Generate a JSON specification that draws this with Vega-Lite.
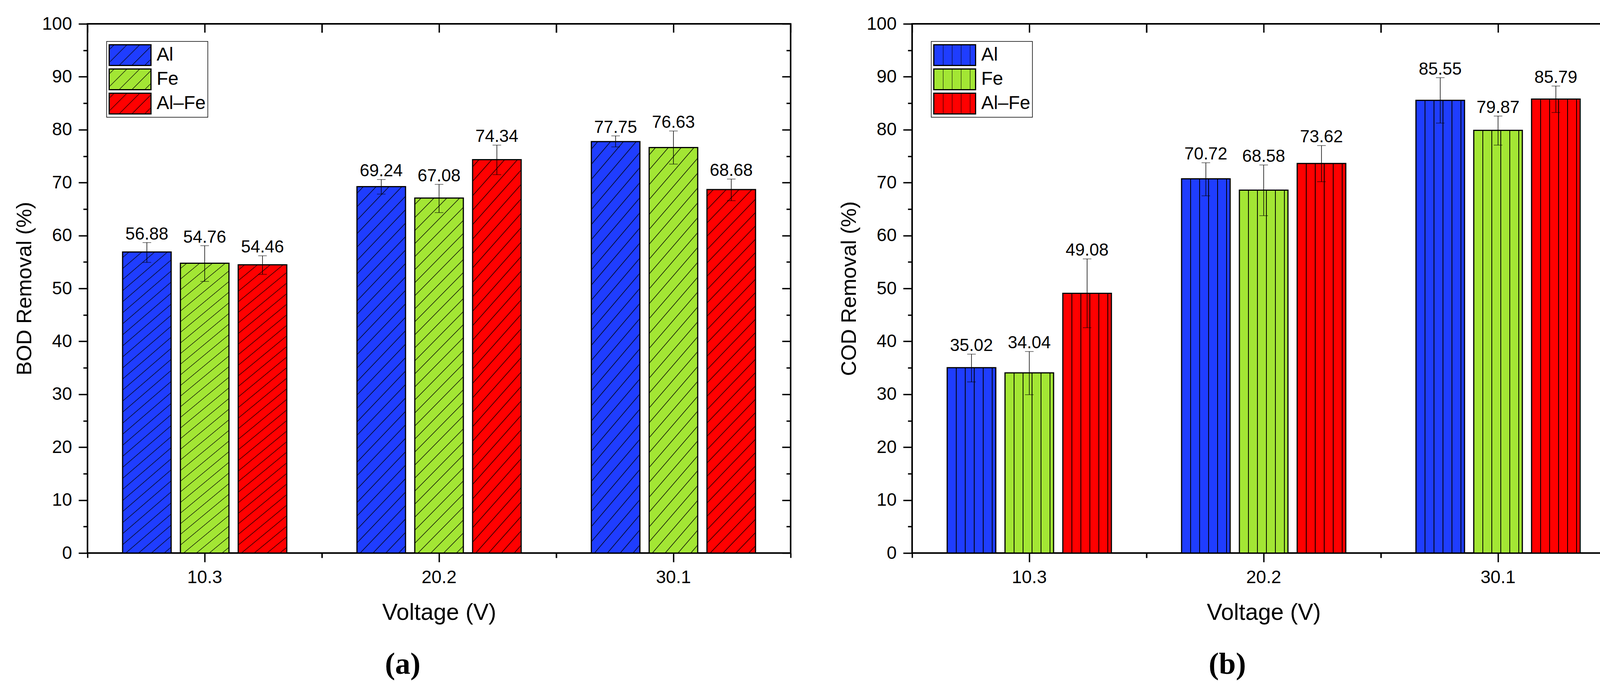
{
  "$schema": "https://vega.github.io/schema/vega-lite/v6.json",
  "background": "white",
  "padding": {"left": 34, "top": 36, "right": 10, "bottom": 0},
  "spacing": 117,
  "resolve": {"scale": {"color": "independent", "fill": "independent"}},
  "datasets": {
    "bod": [
      {"V": "10.3", "metal": "Al", "value": 56.88, "lo": 54.92, "hi": 58.67},
      {"V": "10.3", "metal": "Fe", "value": 54.76, "lo": 51.33, "hi": 58.08},
      {"V": "10.3", "metal": "Al–Fe", "value": 54.46, "lo": 52.67, "hi": 56.17},
      {"V": "20.2", "metal": "Al", "value": 69.24, "lo": 67.83, "hi": 70.58},
      {"V": "20.2", "metal": "Fe", "value": 67.08, "lo": 64.33, "hi": 69.67},
      {"V": "20.2", "metal": "Al–Fe", "value": 74.34, "lo": 71.5, "hi": 77.08},
      {"V": "30.1", "metal": "Al", "value": 77.75, "lo": 76.75, "hi": 78.83},
      {"V": "30.1", "metal": "Fe", "value": 76.63, "lo": 73.5, "hi": 79.75},
      {"V": "30.1", "metal": "Al–Fe", "value": 68.68, "lo": 66.58, "hi": 70.67}
    ],
    "cod": [
      {"V": "10.3", "metal": "Al", "value": 35.02, "lo": 32.33, "hi": 37.58},
      {"V": "10.3", "metal": "Fe", "value": 34.04, "lo": 29.92, "hi": 38.08},
      {"V": "10.3", "metal": "Al–Fe", "value": 49.08, "lo": 42.58, "hi": 55.58},
      {"V": "20.2", "metal": "Al", "value": 70.72, "lo": 67.5, "hi": 73.75},
      {"V": "20.2", "metal": "Fe", "value": 68.58, "lo": 63.75, "hi": 73.33},
      {"V": "20.2", "metal": "Al–Fe", "value": 73.62, "lo": 70.17, "hi": 77.0},
      {"V": "30.1", "metal": "Al", "value": 85.55, "lo": 81.25, "hi": 89.83},
      {"V": "30.1", "metal": "Fe", "value": 79.87, "lo": 77.08, "hi": 82.58},
      {"V": "30.1", "metal": "Al–Fe", "value": 85.79, "lo": 83.25, "hi": 88.25}
    ]
  },
  "hconcat": [
    {
      "data": {"name": "bod"},
      "width": 1800,
      "height": 1354,
      "title": {"text": "(a)", "orient": "bottom", "anchor": "middle", "frame": "bounds", "font": "Liberation Serif", "fontSize": 78, "fontWeight": "bold", "offset": 65, "color": "black"},
      "resolve": {"axis": {"x": "independent", "y": "independent"}},
      "layer": [
        {
          "mark": {"type": "bar", "opacity": 0, "stroke": "black", "strokeWidth": 3},
          "encoding": {
            "x": {"field": "V", "type": "nominal", "sort": ["10.3", "20.2", "30.1"], "scale": {"paddingInner": 0, "paddingOuter": 0}, "axis": null},
            "xOffset": {"field": "metal", "type": "nominal", "sort": ["Al", "Fe", "Al–Fe"], "scale": {"paddingInner": 0.16, "paddingOuter": 0.607}},
            "y": {"field": "value", "type": "quantitative", "stack": null, "axis": null},
            "color": {"field": "metal", "type": "nominal",
              "scale": {"domain": ["Al", "Fe", "Al–Fe"], "range": [
                {"expr": "{gradient:'linear',x1:0,y1:0,x2:1.2,y2:0.594,stops:[{offset:0.069,color:'#1f3dff'},{offset:0.08,color:'#000'},{offset:0.091,color:'#1f3dff'},{offset:0.274,color:'#1f3dff'},{offset:0.285,color:'#000'},{offset:0.296,color:'#1f3dff'},{offset:0.479,color:'#1f3dff'},{offset:0.49,color:'#000'},{offset:0.501,color:'#1f3dff'},{offset:0.683,color:'#1f3dff'},{offset:0.694,color:'#000'},{offset:0.705,color:'#1f3dff'},{offset:0.888,color:'#1f3dff'},{offset:0.899,color:'#000'},{offset:0.91,color:'#1f3dff'}]}"},
                {"expr": "{gradient:'linear',x1:0,y1:0,x2:1.2,y2:0.594,stops:[{offset:0.069,color:'#a3e634'},{offset:0.08,color:'#000'},{offset:0.091,color:'#a3e634'},{offset:0.274,color:'#a3e634'},{offset:0.285,color:'#000'},{offset:0.296,color:'#a3e634'},{offset:0.479,color:'#a3e634'},{offset:0.49,color:'#000'},{offset:0.501,color:'#a3e634'},{offset:0.683,color:'#a3e634'},{offset:0.694,color:'#000'},{offset:0.705,color:'#a3e634'},{offset:0.888,color:'#a3e634'},{offset:0.899,color:'#000'},{offset:0.91,color:'#a3e634'}]}"},
                {"expr": "{gradient:'linear',x1:0,y1:0,x2:1.2,y2:0.594,stops:[{offset:0.069,color:'#ff0000'},{offset:0.08,color:'#000'},{offset:0.091,color:'#ff0000'},{offset:0.274,color:'#ff0000'},{offset:0.285,color:'#000'},{offset:0.296,color:'#ff0000'},{offset:0.479,color:'#ff0000'},{offset:0.49,color:'#000'},{offset:0.501,color:'#ff0000'},{offset:0.683,color:'#ff0000'},{offset:0.694,color:'#000'},{offset:0.705,color:'#ff0000'},{offset:0.888,color:'#ff0000'},{offset:0.899,color:'#000'},{offset:0.91,color:'#ff0000'}]}"}
              ]},
              "legend": {"orient": "none", "legendX": 49, "legendY": 45, "title": null}}
          }
        },
        {
          "mark": {"type": "bar", "strokeWidth": 0},
          "encoding": {
            "x": {"field": "V", "type": "nominal", "sort": ["10.3", "20.2", "30.1"], "scale": {"paddingInner": 0, "paddingOuter": 0},
                  "axis": {"orient": "bottom", "title": "Voltage (V)", "labelAngle": 0, "tickSize": 23, "labelPadding": 17, "labelFontSize": 46, "titleFontSize": 59, "titlePadding": 38}},
            "xOffset": {"field": "metal", "type": "nominal", "sort": ["Al", "Fe", "Al–Fe"], "scale": {"paddingInner": 0.16, "paddingOuter": 0.607}},
            "y": {"field": "value", "type": "quantitative", "stack": null, "scale": {"domain": [0, 100], "nice": false},
                  "axis": {"orient": "left", "title": "BOD Removal (%)", "values": [0, 10, 20, 30, 40, 50, 60, 70, 80, 90, 100], "tickSize": 23, "labelPadding": 17, "labelFontSize": 46, "titleFontSize": 54, "titlePadding": 17}},
            "fill": {"field": "metal", "type": "nominal", "sort": ["Al", "Fe", "Al–Fe"],
                     "scale": {"domain": ["Al", "Fe", "Al–Fe"], "range": ["#1f3dff", "#a3e634", "#ff0000"]},
                     "legend": null}
          }
        },
        {
          "mark": {"type": "bar", "stroke": "black", "strokeWidth": 3,
            "fill": {"gradient": "linear", "x1": 0, "y1": 0, "x2": 1, "y2": 7.2, "stops": [
              {"offset": 0.0022, "color": "transparent"}, {"offset": 0.0025, "color": "#000"}, {"offset": 0.0028, "color": "transparent"},
              {"offset": 0.0072, "color": "transparent"}, {"offset": 0.0075, "color": "#000"}, {"offset": 0.0078, "color": "transparent"},
              {"offset": 0.0122, "color": "transparent"}, {"offset": 0.0125, "color": "#000"}, {"offset": 0.0128, "color": "transparent"},
              {"offset": 0.0172, "color": "transparent"}, {"offset": 0.0175, "color": "#000"}, {"offset": 0.0178, "color": "transparent"},
              {"offset": 0.0222, "color": "transparent"}, {"offset": 0.0225, "color": "#000"}, {"offset": 0.0228, "color": "transparent"},
              {"offset": 0.0272, "color": "transparent"}, {"offset": 0.0275, "color": "#000"}, {"offset": 0.0278, "color": "transparent"},
              {"offset": 0.0322, "color": "transparent"}, {"offset": 0.0325, "color": "#000"}, {"offset": 0.0328, "color": "transparent"},
              {"offset": 0.0372, "color": "transparent"}, {"offset": 0.0375, "color": "#000"}, {"offset": 0.0378, "color": "transparent"},
              {"offset": 0.0422, "color": "transparent"}, {"offset": 0.0425, "color": "#000"}, {"offset": 0.0428, "color": "transparent"},
              {"offset": 0.0472, "color": "transparent"}, {"offset": 0.0475, "color": "#000"}, {"offset": 0.0478, "color": "transparent"},
              {"offset": 0.0522, "color": "transparent"}, {"offset": 0.0525, "color": "#000"}, {"offset": 0.0528, "color": "transparent"},
              {"offset": 0.0572, "color": "transparent"}, {"offset": 0.0575, "color": "#000"}, {"offset": 0.0578, "color": "transparent"},
              {"offset": 0.0622, "color": "transparent"}, {"offset": 0.0625, "color": "#000"}, {"offset": 0.0628, "color": "transparent"},
              {"offset": 0.0672, "color": "transparent"}, {"offset": 0.0675, "color": "#000"}, {"offset": 0.0678, "color": "transparent"},
              {"offset": 0.0722, "color": "transparent"}, {"offset": 0.0725, "color": "#000"}, {"offset": 0.0728, "color": "transparent"},
              {"offset": 0.0772, "color": "transparent"}, {"offset": 0.0775, "color": "#000"}, {"offset": 0.0778, "color": "transparent"},
              {"offset": 0.0822, "color": "transparent"}, {"offset": 0.0825, "color": "#000"}, {"offset": 0.0828, "color": "transparent"},
              {"offset": 0.0872, "color": "transparent"}, {"offset": 0.0875, "color": "#000"}, {"offset": 0.0878, "color": "transparent"},
              {"offset": 0.0922, "color": "transparent"}, {"offset": 0.0925, "color": "#000"}, {"offset": 0.0928, "color": "transparent"},
              {"offset": 0.0972, "color": "transparent"}, {"offset": 0.0975, "color": "#000"}, {"offset": 0.0978, "color": "transparent"},
              {"offset": 0.1022, "color": "transparent"}, {"offset": 0.1025, "color": "#000"}, {"offset": 0.1028, "color": "transparent"},
              {"offset": 0.1072, "color": "transparent"}, {"offset": 0.1075, "color": "#000"}, {"offset": 0.1078, "color": "transparent"},
              {"offset": 0.1122, "color": "transparent"}, {"offset": 0.1125, "color": "#000"}, {"offset": 0.1128, "color": "transparent"},
              {"offset": 0.1172, "color": "transparent"}, {"offset": 0.1175, "color": "#000"}, {"offset": 0.1178, "color": "transparent"},
              {"offset": 0.1222, "color": "transparent"}, {"offset": 0.1225, "color": "#000"}, {"offset": 0.1228, "color": "transparent"},
              {"offset": 0.1272, "color": "transparent"}, {"offset": 0.1275, "color": "#000"}, {"offset": 0.1278, "color": "transparent"},
              {"offset": 0.1322, "color": "transparent"}, {"offset": 0.1325, "color": "#000"}, {"offset": 0.1328, "color": "transparent"},
              {"offset": 0.1372, "color": "transparent"}, {"offset": 0.1375, "color": "#000"}, {"offset": 0.1378, "color": "transparent"},
              {"offset": 0.1422, "color": "transparent"}, {"offset": 0.1425, "color": "#000"}, {"offset": 0.1428, "color": "transparent"},
              {"offset": 0.1472, "color": "transparent"}, {"offset": 0.1475, "color": "#000"}, {"offset": 0.1478, "color": "transparent"},
              {"offset": 0.1522, "color": "transparent"}, {"offset": 0.1525, "color": "#000"}, {"offset": 0.1528, "color": "transparent"}]}},
          "encoding": {
            "x": {"field": "V", "type": "nominal", "sort": ["10.3", "20.2", "30.1"], "scale": {"paddingInner": 0, "paddingOuter": 0},
                  "axis": {"orient": "bottom", "bandPosition": 0, "tickSize": 12, "labels": false, "title": null}},
            "xOffset": {"field": "metal", "type": "nominal", "sort": ["Al", "Fe", "Al–Fe"], "scale": {"paddingInner": 0.16, "paddingOuter": 0.607}},
            "y": {"field": "value", "type": "quantitative", "stack": null,
                  "axis": {"orient": "left", "values": [5, 15, 25, 35, 45, 55, 65, 75, 85, 95], "tickSize": 11, "labels": false, "title": null}}
          }
        },
        {
          "mark": {"type": "rule", "strokeWidth": 1.5, "color": "black"},
          "encoding": {
            "x": {"field": "V", "type": "nominal", "sort": ["10.3", "20.2", "30.1"],
                  "axis": {"orient": "bottom", "bandPosition": 1, "tickSize": 12, "labels": false, "title": null}},
            "xOffset": {"field": "metal", "type": "nominal", "sort": ["Al", "Fe", "Al–Fe"]},
            "y": {"field": "lo", "type": "quantitative",
                  "axis": {"orient": "right", "values": [0, 10, 20, 30, 40, 50, 60, 70, 80, 90, 100], "tickSize": -22, "labels": false, "title": null}},
            "y2": {"field": "hi"}
          }
        },
        {
          "mark": {"type": "tick", "thickness": 1.5, "size": 22, "color": "black"},
          "encoding": {
            "x": {"field": "V", "type": "nominal", "sort": ["10.3", "20.2", "30.1"],
                  "axis": {"orient": "top", "bandPosition": 0.5, "tickSize": -22, "labels": false, "title": null}},
            "xOffset": {"field": "metal", "type": "nominal", "sort": ["Al", "Fe", "Al–Fe"]},
            "y": {"field": "hi", "type": "quantitative",
                  "axis": {"orient": "right", "values": [5, 15, 25, 35, 45, 55, 65, 75, 85, 95], "tickSize": -11, "labels": false, "title": null}}
          }
        },
        {
          "mark": {"type": "tick", "thickness": 1.5, "size": 22, "color": "black"},
          "encoding": {
            "x": {"field": "V", "type": "nominal", "sort": ["10.3", "20.2", "30.1"],
                  "axis": {"orient": "top", "bandPosition": 0, "tickSize": -22, "labels": false, "title": null}},
            "xOffset": {"field": "metal", "type": "nominal", "sort": ["Al", "Fe", "Al–Fe"]},
            "y": {"field": "lo", "type": "quantitative", "axis": null}
          }
        },
        {
          "mark": {"type": "text", "baseline": "alphabetic", "dy": -8, "fontSize": 44, "color": "black"},
          "encoding": {
            "x": {"field": "V", "type": "nominal", "sort": ["10.3", "20.2", "30.1"],
                  "axis": {"orient": "top", "bandPosition": 1, "tickSize": -22, "labels": false, "title": null}},
            "xOffset": {"field": "metal", "type": "nominal", "sort": ["Al", "Fe", "Al–Fe"]},
            "y": {"field": "hi", "type": "quantitative", "axis": null},
            "text": {"field": "value", "type": "quantitative", "format": ".2f"}
          }
        }
      ]
    },
    {
      "data": {"name": "cod"},
      "width": 1800,
      "height": 1354,
      "title": {"text": "(b)", "orient": "bottom", "anchor": "middle", "frame": "bounds", "font": "Liberation Serif", "fontSize": 78, "fontWeight": "bold", "offset": 65, "color": "black"},
      "resolve": {"axis": {"x": "independent", "y": "independent"}},
      "layer": [
        {
          "mark": {"type": "bar", "opacity": 0, "stroke": "black", "strokeWidth": 3},
          "encoding": {
            "x": {"field": "V", "type": "nominal", "sort": ["10.3", "20.2", "30.1"], "scale": {"paddingInner": 0, "paddingOuter": 0}, "axis": null},
            "xOffset": {"field": "metal", "type": "nominal", "sort": ["Al", "Fe", "Al–Fe"], "scale": {"paddingInner": 0.16, "paddingOuter": 0.607}},
            "y": {"field": "value", "type": "quantitative", "stack": null, "axis": null},
            "color": {"field": "metal", "type": "nominal",
              "scale": {"domain": ["Al", "Fe", "Al–Fe"], "range": [
                {"expr": "{gradient:'linear',x1:0,y1:0,x2:1,y2:0,stops:[{offset:0.221,color:'#1f3dff'},{offset:0.221,color:'#000'},{offset:0.231,color:'#000'},{offset:0.231,color:'#1f3dff'},{offset:0.436,color:'#1f3dff'},{offset:0.436,color:'#000'},{offset:0.446,color:'#000'},{offset:0.446,color:'#1f3dff'},{offset:0.651,color:'#1f3dff'},{offset:0.651,color:'#000'},{offset:0.661,color:'#000'},{offset:0.661,color:'#1f3dff'},{offset:0.866,color:'#1f3dff'},{offset:0.866,color:'#000'},{offset:0.876,color:'#000'},{offset:0.876,color:'#1f3dff'}]}"},
                {"expr": "{gradient:'linear',x1:0,y1:0,x2:1,y2:0,stops:[{offset:0.221,color:'#a3e634'},{offset:0.221,color:'#000'},{offset:0.231,color:'#000'},{offset:0.231,color:'#a3e634'},{offset:0.436,color:'#a3e634'},{offset:0.436,color:'#000'},{offset:0.446,color:'#000'},{offset:0.446,color:'#a3e634'},{offset:0.651,color:'#a3e634'},{offset:0.651,color:'#000'},{offset:0.661,color:'#000'},{offset:0.661,color:'#a3e634'},{offset:0.866,color:'#a3e634'},{offset:0.866,color:'#000'},{offset:0.876,color:'#000'},{offset:0.876,color:'#a3e634'}]}"},
                {"expr": "{gradient:'linear',x1:0,y1:0,x2:1,y2:0,stops:[{offset:0.221,color:'#ff0000'},{offset:0.221,color:'#000'},{offset:0.231,color:'#000'},{offset:0.231,color:'#ff0000'},{offset:0.436,color:'#ff0000'},{offset:0.436,color:'#000'},{offset:0.446,color:'#000'},{offset:0.446,color:'#ff0000'},{offset:0.651,color:'#ff0000'},{offset:0.651,color:'#000'},{offset:0.661,color:'#000'},{offset:0.661,color:'#ff0000'},{offset:0.866,color:'#ff0000'},{offset:0.866,color:'#000'},{offset:0.876,color:'#000'},{offset:0.876,color:'#ff0000'}]}"}
              ]},
              "legend": {"orient": "none", "legendX": 49, "legendY": 45, "title": null}}
          }
        },
        {
          "mark": {"type": "bar", "strokeWidth": 0},
          "encoding": {
            "x": {"field": "V", "type": "nominal", "sort": ["10.3", "20.2", "30.1"], "scale": {"paddingInner": 0, "paddingOuter": 0},
                  "axis": {"orient": "bottom", "title": "Voltage (V)", "labelAngle": 0, "tickSize": 23, "labelPadding": 17, "labelFontSize": 46, "titleFontSize": 59, "titlePadding": 38}},
            "xOffset": {"field": "metal", "type": "nominal", "sort": ["Al", "Fe", "Al–Fe"], "scale": {"paddingInner": 0.16, "paddingOuter": 0.607}},
            "y": {"field": "value", "type": "quantitative", "stack": null, "scale": {"domain": [0, 100], "nice": false},
                  "axis": {"orient": "left", "title": "COD Removal (%)", "values": [0, 10, 20, 30, 40, 50, 60, 70, 80, 90, 100], "tickSize": 23, "labelPadding": 17, "labelFontSize": 46, "titleFontSize": 54, "titlePadding": 17}},
            "fill": {"field": "metal", "type": "nominal", "sort": ["Al", "Fe", "Al–Fe"],
                     "scale": {"domain": ["Al", "Fe", "Al–Fe"], "range": ["#1f3dff", "#a3e634", "#ff0000"]},
                     "legend": null}
          }
        },
        {
          "mark": {"type": "bar", "stroke": "black", "strokeWidth": 3,
            "fill": {"gradient": "linear", "x1": 0, "y1": 0, "x2": 1, "y2": 0, "stops": [
              {"offset": 0.182, "color": "transparent"}, {"offset": 0.182, "color": "#000"}, {"offset": 0.192, "color": "#000"}, {"offset": 0.192, "color": "transparent"},
              {"offset": 0.367, "color": "transparent"}, {"offset": 0.367, "color": "#000"}, {"offset": 0.377, "color": "#000"}, {"offset": 0.377, "color": "transparent"},
              {"offset": 0.552, "color": "transparent"}, {"offset": 0.552, "color": "#000"}, {"offset": 0.562, "color": "#000"}, {"offset": 0.562, "color": "transparent"},
              {"offset": 0.737, "color": "transparent"}, {"offset": 0.737, "color": "#000"}, {"offset": 0.747, "color": "#000"}, {"offset": 0.747, "color": "transparent"},
              {"offset": 0.922, "color": "transparent"}, {"offset": 0.922, "color": "#000"}, {"offset": 0.932, "color": "#000"}, {"offset": 0.932, "color": "transparent"}]}},
          "encoding": {
            "x": {"field": "V", "type": "nominal", "sort": ["10.3", "20.2", "30.1"], "scale": {"paddingInner": 0, "paddingOuter": 0},
                  "axis": {"orient": "bottom", "bandPosition": 0, "tickSize": 12, "labels": false, "title": null}},
            "xOffset": {"field": "metal", "type": "nominal", "sort": ["Al", "Fe", "Al–Fe"], "scale": {"paddingInner": 0.16, "paddingOuter": 0.607}},
            "y": {"field": "value", "type": "quantitative", "stack": null,
                  "axis": {"orient": "left", "values": [5, 15, 25, 35, 45, 55, 65, 75, 85, 95], "tickSize": 11, "labels": false, "title": null}}
          }
        },
        {
          "mark": {"type": "rule", "strokeWidth": 1.5, "color": "black"},
          "encoding": {
            "x": {"field": "V", "type": "nominal", "sort": ["10.3", "20.2", "30.1"],
                  "axis": {"orient": "bottom", "bandPosition": 1, "tickSize": 12, "labels": false, "title": null}},
            "xOffset": {"field": "metal", "type": "nominal", "sort": ["Al", "Fe", "Al–Fe"]},
            "y": {"field": "lo", "type": "quantitative",
                  "axis": {"orient": "right", "values": [0, 10, 20, 30, 40, 50, 60, 70, 80, 90, 100], "tickSize": -22, "labels": false, "title": null}},
            "y2": {"field": "hi"}
          }
        },
        {
          "mark": {"type": "tick", "thickness": 1.5, "size": 22, "color": "black"},
          "encoding": {
            "x": {"field": "V", "type": "nominal", "sort": ["10.3", "20.2", "30.1"],
                  "axis": {"orient": "top", "bandPosition": 0.5, "tickSize": -22, "labels": false, "title": null}},
            "xOffset": {"field": "metal", "type": "nominal", "sort": ["Al", "Fe", "Al–Fe"]},
            "y": {"field": "hi", "type": "quantitative",
                  "axis": {"orient": "right", "values": [5, 15, 25, 35, 45, 55, 65, 75, 85, 95], "tickSize": -11, "labels": false, "title": null}}
          }
        },
        {
          "mark": {"type": "tick", "thickness": 1.5, "size": 22, "color": "black"},
          "encoding": {
            "x": {"field": "V", "type": "nominal", "sort": ["10.3", "20.2", "30.1"],
                  "axis": {"orient": "top", "bandPosition": 0, "tickSize": -22, "labels": false, "title": null}},
            "xOffset": {"field": "metal", "type": "nominal", "sort": ["Al", "Fe", "Al–Fe"]},
            "y": {"field": "lo", "type": "quantitative", "axis": null}
          }
        },
        {
          "mark": {"type": "text", "baseline": "alphabetic", "dy": -8, "fontSize": 44, "color": "black"},
          "encoding": {
            "x": {"field": "V", "type": "nominal", "sort": ["10.3", "20.2", "30.1"],
                  "axis": {"orient": "top", "bandPosition": 1, "tickSize": -22, "labels": false, "title": null}},
            "xOffset": {"field": "metal", "type": "nominal", "sort": ["Al", "Fe", "Al–Fe"]},
            "y": {"field": "hi", "type": "quantitative", "axis": null},
            "text": {"field": "value", "type": "quantitative", "format": ".2f"}
          }
        }
      ]
    }
  ],
  "config": {
    "font": "Liberation Sans",
    "view": {"stroke": "black", "strokeWidth": 4},
    "axis": {"domain": false, "grid": false, "tickColor": "black", "tickWidth": 3.5, "labelColor": "black", "titleColor": "black", "labelFont": "Liberation Sans", "titleFont": "Liberation Sans", "titleFontWeight": "normal", "labelFontSize": 46},
    "legend": {"labelFont": "Liberation Sans", "labelFontSize": 48, "labelColor": "black", "strokeColor": "black", "strokeWidth": 1.5, "fillColor": "white", "padding": 5, "rowPadding": 2, "clipHeight": 60, "labelOffset": 13, "symbolType": "M-1,-0.495H1V0.495H-1Z", "symbolSize": 11449, "symbolStrokeWidth": 3, "symbolStrokeColor": "black", "symbolOpacity": 1, "labelLimit": 400},
    "title": {"color": "black"}
  }
}
